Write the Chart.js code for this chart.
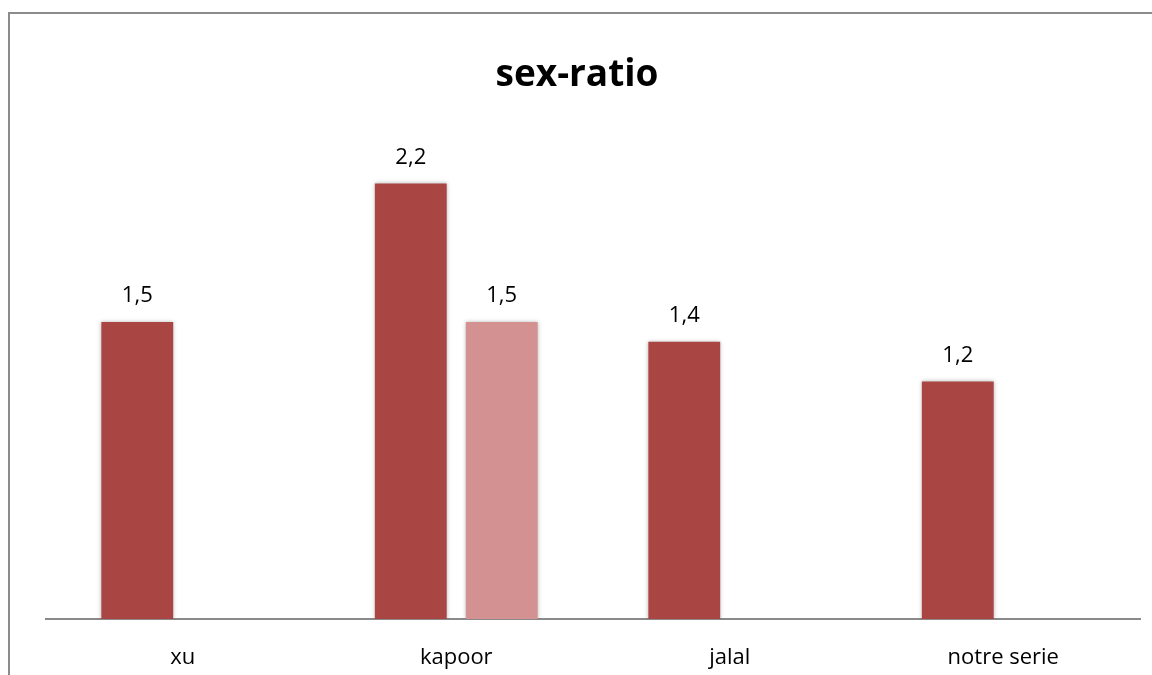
<!DOCTYPE html>
<html>
<head>
<meta charset="utf-8">
<script src="https://cdn.jsdelivr.net/npm/chart.js@4/dist/chart.umd.min.js"></script>
<style>
    html, body { margin: 0; padding: 0; background: #ffffff; overflow: hidden; }
    #wrap { position: relative; width: 1152px; height: 675px; }
    #cadre { position: absolute; left: 8px; top: 12px; width: 1200px; height: 700px;
             border-left: 2px solid #8c8c8c; border-top: 2px solid #8c8c8c; }
    #graph { position: absolute; left: 0; top: 0; }
</style>
</head>
<body>
<div id="wrap">
    <div id="cadre"></div>
    <canvas id="graph" width="1152" height="675"></canvas>
</div>
<script>
//Données
var tab_Etudes = ['xu', 'kapoor', 'jalal', 'notre serie'];
var tab_Serie1 = [1.5, 2.2, 1.4, 1.2];
var tab_Serie2 = [null, 1.5, null, null];
var tab_Couleurs = ['#A94644', '#D39291'];
var titre = 'sex-ratio';

//Ombre des barres
var ombrePlugin = {
    id: 'ombre',
    beforeDatasetsDraw: function (chart) {
        var ctx = chart.ctx;
        ctx.save();
        ctx.shadowColor = 'rgba(0,0,0,0.28)';
        ctx.shadowBlur = 4;
        ctx.shadowOffsetX = 0;
        ctx.shadowOffsetY = 0;
    },
    afterDatasetsDraw: function (chart) {
        chart.ctx.restore();
    }
};

//Titre + étiquettes de valeurs (virgule décimale)
var etiquettesPlugin = {
    id: 'etiquettes',
    afterDraw: function (chart) {
        var ctx = chart.ctx;
        ctx.save();
        ctx.fillStyle = '#000000';
        ctx.textAlign = 'center';
        ctx.textBaseline = 'middle';
        ctx.font = 'bold 37px "Open Sans", sans-serif';
        ctx.fillText(titre, 577, 75);
        ctx.font = '22px "Open Sans", sans-serif';
        chart.data.datasets.forEach(function (ds, i) {
            var meta = chart.getDatasetMeta(i);
            meta.data.forEach(function (bar, j) {
                var v = ds.data[j];
                if (v === null || v === undefined) return;
                ctx.fillText(v.toFixed(1).replace('.', ','), bar.x, bar.y - 26);
            });
        });
        ctx.restore();
    }
};

var ctx = document.getElementById('graph').getContext('2d');
var chart = new Chart(ctx, {
    type: 'bar',
    data: {
        labels: tab_Etudes,
        datasets: [{
            label: 'Série 1',
            data: tab_Serie1,
            backgroundColor: tab_Couleurs[0],
            categoryPercentage: 0.665,
            barPercentage: 0.79
        }, {
            label: 'Série 2',
            data: tab_Serie2,
            backgroundColor: tab_Couleurs[1],
            categoryPercentage: 0.665,
            barPercentage: 0.79
        }]
    },
    options: {
        responsive: false,
        animation: false,
        layout: {
            padding: { left: 46, right: 12, top: 124, bottom: 0 }
        },
        plugins: {
            legend: { display: false },
            tooltip: { enabled: false },
            title: { display: false }
        },
        scales: {
            y: {
                display: false,
                min: 0,
                max: 2.5
            },
            x: {
                grid: { display: false, drawTicks: false },
                border: { display: true, color: '#8a8a8a', width: 2 },
                ticks: {
                    color: '#000000',
                    padding: 26,
                    font: { family: '"Open Sans", sans-serif', size: 22 }
                },
                afterFit: function (scale) {
                    scale.height = 56;
                }
            }
        }
    },
    plugins: [ombrePlugin, etiquettesPlugin]
});
</script>
</body>
</html>
